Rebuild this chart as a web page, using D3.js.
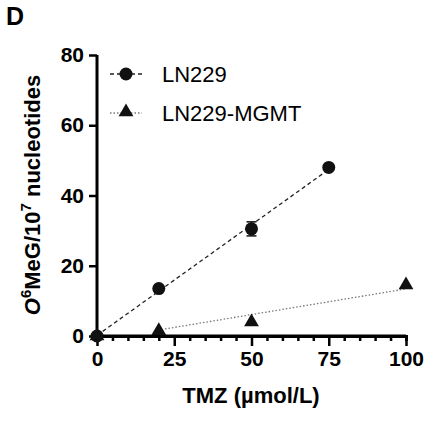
<!DOCTYPE html>
<html><head><meta charset="utf-8">
<script src="https://cdn.jsdelivr.net/npm/d3@7"></script>
<style>body{margin:0;background:#fff;font-family:"Liberation Sans",Arial,sans-serif;}</style>
</head><body><div id="chart"></div>
<script>
let doses = [0, 20, 50, 75];
let ln229 = [0, 13.5, 30.5, 48];
let ln229Err = [0, 0.8, 2, 0.8];
let mgmtDoses = [0, 20, 50, 100];
let mgmt = [0, 1.5, 4, 14.5];
let xTicks = [0, 25, 50, 75, 100];
let yTicks = [0, 20, 40, 60, 80];

function fit(xs, ys) {
    let mx = d3.mean(xs), my = d3.mean(ys);
    let sxy = d3.sum(xs, (x, i) => (x - mx) * (ys[i] - my));
    let sxx = d3.sum(xs, (x) => (x - mx) * (x - mx));
    let b = sxy / sxx;
    return {b: b, a: my - b * mx};
}

let svg = d3.select('#chart').append('svg').attr('width', 446).attr('height', 426);
let x = d3.scaleLinear().domain([0, 100]).range([97, 406]);
let y = d3.scaleLinear().domain([0, 80]).range([336, 55]);

svg.append('text').attr('x', 6).attr('y', 25).attr('font-size', 25).attr('font-weight', 'bold').text('D');

// axes
let xAxis = svg.append('g').attr('transform', 'translate(0,336)')
    .call(d3.axisBottom(x).tickValues(xTicks).tickSize(10).tickPadding(5));
svg.append('g').attr('transform', 'translate(0,336)')
    .call(d3.axisBottom(x).tickValues(d3.range(0, 101, 5).filter(v => v % 25)).tickSize(5).tickFormat(''));
let yAxis = svg.append('g').attr('transform', 'translate(97,0)')
    .call(d3.axisLeft(y).tickValues(yTicks).tickSize(8).tickPadding(5));
svg.selectAll('.domain').attr('stroke-width', 3);
svg.selectAll('.tick line').attr('stroke-width', 2.5);
svg.selectAll('.tick text').attr('font-size', 21).attr('font-weight', 'bold').attr('font-family', 'Liberation Sans, Arial');
xAxis.select('.domain').attr('d', 'M' + x(0) + ',0H' + x(100));
yAxis.select('.domain').attr('d', 'M0,' + y(0) + 'V' + y(80));

svg.append('text').attr('x', 251).attr('y', 403).attr('text-anchor', 'middle')
    .attr('font-size', 22).attr('font-weight', 'bold').text('TMZ (µmol/L)');
let yl = svg.append('text').attr('transform', 'translate(40,195) rotate(-90)').attr('text-anchor', 'middle')
    .attr('font-size', 22).attr('font-weight', 'bold');
yl.append('tspan').attr('font-style', 'italic').text('O');
yl.append('tspan').attr('dy', -9).attr('font-size', 15).text('6');
yl.append('tspan').attr('dy', 9).text('MeG/10');
yl.append('tspan').attr('dy', -9).attr('font-size', 15).text('7');
yl.append('tspan').attr('dy', 9).text(' nucleotides');

// fit lines
let f1 = fit(doses, ln229);
svg.append('line').attr('x1', x(0)).attr('y1', y(f1.a)).attr('x2', x(75)).attr('y2', y(f1.a + f1.b * 75))
    .attr('stroke', '#222').attr('stroke-width', 1.3).attr('stroke-dasharray', '4,3');
let f2 = fit(mgmtDoses, mgmt);
svg.append('line').attr('x1', x(22)).attr('y1', y(f2.a + f2.b * 22)).attr('x2', x(100)).attr('y2', y(f2.a + f2.b * 100))
    .attr('stroke', '#777').attr('stroke-width', 1.3).attr('stroke-dasharray', '1.5,2');

// error bars
doses.forEach((d, i) => {
    if (ln229Err[i] < 1) return;
    let g = svg.append('g').attr('stroke', '#111').attr('stroke-width', 1.5);
    g.append('line').attr('x1', x(d)).attr('x2', x(d)).attr('y1', y(ln229[i] - ln229Err[i])).attr('y2', y(ln229[i] + ln229Err[i]));
    [-1, 1].forEach(s => g.append('line').attr('x1', x(d) - 5).attr('x2', x(d) + 5)
        .attr('y1', y(ln229[i] + s * ln229Err[i])).attr('y2', y(ln229[i] + s * ln229Err[i])));
});

let tri = d3.symbol().type(d3.symbolTriangle).size(95);
svg.selectAll('.m').data(mgmtDoses).enter().append('path')
    .attr('transform', (d, i) => 'translate(' + x(d) + ',' + y(mgmt[i]) + ')').attr('d', tri()).attr('fill', '#111');
svg.selectAll('.c').data(doses).enter().append('circle')
    .attr('cx', d => x(d)).attr('cy', (d, i) => y(ln229[i])).attr('r', 6.5).attr('fill', '#111');

// legend
let lg = svg.append('g');
lg.append('line').attr('x1', 110).attr('x2', 142).attr('y1', 74).attr('y2', 74)
    .attr('stroke', '#222').attr('stroke-width', 1.3).attr('stroke-dasharray', '4,3');
lg.append('circle').attr('cx', 126).attr('cy', 74).attr('r', 6.5).attr('fill', '#111');
lg.append('text').attr('x', 162).attr('y', 82).attr('font-size', 22).text('LN229');
lg.append('line').attr('x1', 110).attr('x2', 142).attr('y1', 113).attr('y2', 113)
    .attr('stroke', '#777').attr('stroke-width', 1.3).attr('stroke-dasharray', '1.5,2');
lg.append('path').attr('transform', 'translate(126,112)').attr('d', tri()).attr('fill', '#111');
lg.append('text').attr('x', 162).attr('y', 121).attr('font-size', 22).text('LN229-MGMT');
</script></body></html>
